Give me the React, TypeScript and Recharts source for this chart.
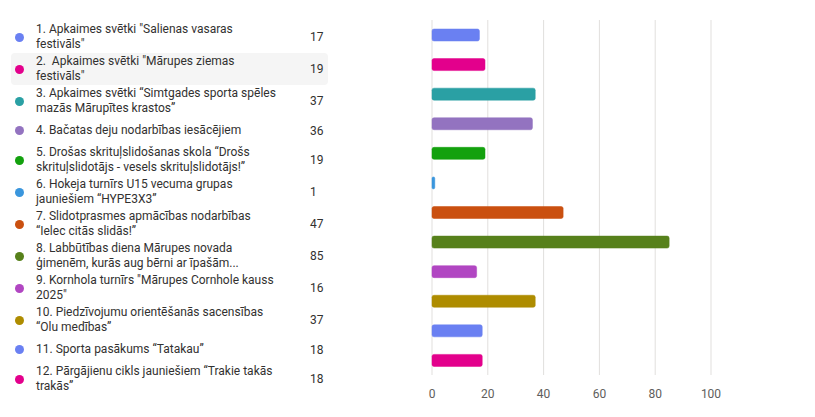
import React from "react";
import { BarChart, Bar, XAxis, YAxis, CartesianGrid, Cell } from "recharts";

const categories = ["1", "2", "3", "4", "5", "6", "7", "8", "9", "10", "11", "12"];

const labelLines: string[][] = [
  ["1. Apkaimes svētki \"Salienas vasaras", "festivāls\""],
  ["2.  Apkaimes svētki \"Mārupes ziemas", "festivāls\""],
  ["3. Apkaimes svētki “Simtgades sporta spēles", "mazās Mārupītes krastos”"],
  ["4. Bačatas deju nodarbības iesācējiem"],
  ["5. Drošas skrituļslidošanas skola “Drošs", "skrituļslidotājs - vesels skrituļslidotājs!”"],
  ["6. Hokeja turnīrs U15 vecuma grupas", "jauniešiem “HYPE3X3”"],
  ["7. Slidotprasmes apmācības nodarbības", "“Ielec citās slidās!”"],
  ["8. Labbūtības diena Mārupes novada", "ģimenēm, kurās aug bērni ar īpašām..."],
  ["9. Kornhola turnīrs \"Mārupes Cornhole kauss", "2025\""],
  ["10. Piedzīvojumu orientēšanās sacensības", "“Olu medības”"],
  ["11. Sporta pasākums “Tatakau”"],
  ["12. Pārgājienu cikls jauniešiem “Trakie takās", "trakās”"],
];

const values = [17, 19, 37, 36, 19, 1, 47, 85, 16, 37, 18, 18];

const colors = [
  "#6a80f2",
  "#e3008c",
  "#2aa0a4",
  "#9373c0",
  "#13a10e",
  "#3a96dd",
  "#ca5010",
  "#57811b",
  "#b146c2",
  "#ae8c00",
  "#6a80f2",
  "#e3008c",
];

const xTicks = [0, 20, 40, 60, 80, 100];

const data = categories.map((c, i) => ({ name: c, value: values[i] }));

const FONT = "Roboto, 'Noto Sans', sans-serif";

export default function App() {
  return (
    <div
      style={{
        position: "absolute",
        left: 0,
        top: 0,
        width: 815,
        height: 417,
        background: "#ffffff",
        overflow: "hidden",
        fontFamily: FONT,
      }}
    >
      <div style={{ position: "absolute", left: 0, top: 0 }}>
        <BarChart
          width={815}
          height={417}
          data={data}
          layout="vertical"
          margin={{ top: 20, right: 104, bottom: 12, left: 432 }}
        >
          <CartesianGrid horizontal={false} stroke="#e1dfdd" />
          <XAxis
            type="number"
            domain={[0, 100]}
            ticks={xTicks}
            axisLine={false}
            tickLine={false}
            tickMargin={8}
            tick={{ fill: "#605e5c", fontSize: 12, fontFamily: FONT }}
          />
          <YAxis type="category" dataKey="name" hide />
          <Bar dataKey="value" barSize={12} radius={2} isAnimationActive={false}>
            {data.map((d, i) => (
              <Cell key={d.name} fill={colors[i]} stroke={colors[i]} strokeOpacity={0.5} />
            ))}
          </Bar>
        </BarChart>
      </div>
      <div
        style={{
          position: "absolute",
          left: 11,
          top: 21,
          width: 317,
          display: "flex",
          flexDirection: "column",
        }}
      >
        {categories.map((c, i) => (
          <div
            key={c}
            style={{
              display: "flex",
              alignItems: "center",
              minHeight: 27,
              padding: "1px 0",
              boxSizing: "border-box",
              borderRadius: 4,
              background: i === 1 ? "#f5f5f5" : "transparent",
            }}
          >
            <div
              style={{
                width: 9,
                height: 9,
                borderRadius: "50%",
                background: colors[i],
                marginLeft: 4,
                marginRight: 12,
                flex: "none",
              }}
            />
            <div
              style={{
                width: 274,
                fontSize: 12,
                lineHeight: "15px",
                color: "#323130",
                flex: "none",
                whiteSpace: "pre",
              }}
            >
              {labelLines[i].map((l, j) => (
                <div key={j}>{l}</div>
              ))}
            </div>
            <div style={{ fontSize: 12, color: "#323130", flex: "none" }}>{values[i]}</div>
          </div>
        ))}
      </div>
    </div>
  );
}
